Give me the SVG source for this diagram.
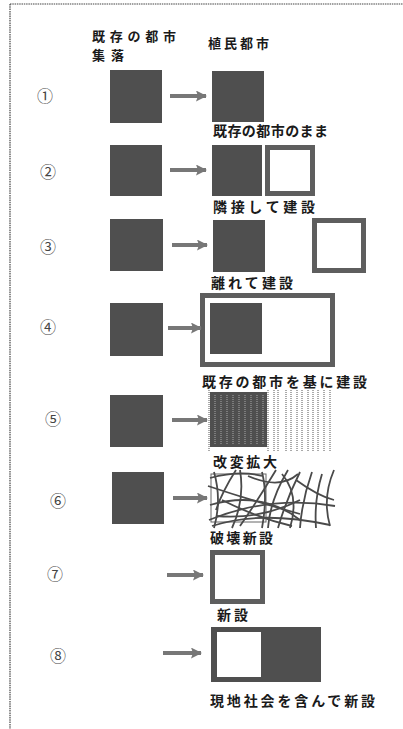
<svg xmlns="http://www.w3.org/2000/svg" width="403" height="729" viewBox="0 0 403 729">
<style>
text{font-family:"Noto Sans CJK JP","Noto Sans",sans-serif;fill:#1a1a1a;font-weight:bold}
.lbl{font-size:14px}
.hdr{font-size:13px}
.num{font-size:16px;font-weight:normal;fill:#444;text-anchor:middle}
.dark{fill:#4f4f4f}
.wbox{fill:#fff;stroke:#5e5e5e;stroke-width:5}
.arr{stroke:#777;stroke-width:4;fill:none;marker-end:url(#ah)}
.tangle path{fill:none;stroke:#4a4a4a;stroke-width:1.8}
.vd{stroke:#555;stroke-width:1;stroke-dasharray:1 1}
.vl{stroke:#aaa;stroke-width:1;stroke-dasharray:1 1}
</style>
<defs>
<marker id="ah" markerUnits="userSpaceOnUse" markerWidth="11" markerHeight="11" refX="10" refY="5.5" orient="auto">
<path d="M0,0 L11,5.5 L0,11 L2,5.5 z" fill="#777"/>
</marker>
</defs>
<rect width="403" height="729" fill="#fff"/>
<g id="frame" stroke="#444" stroke-width="1.2" stroke-dasharray="1.5 0.8" fill="none">
<line x1="10" y1="4" x2="403" y2="4"/>
<line x1="10" y1="4" x2="10" y2="729"/>
</g>
<g id="header">
<text class="hdr" x="92" y="41" textLength="84">既存の都市</text>
<text class="hdr" x="92" y="60" textLength="32">集落</text>
<text class="hdr" x="208" y="48" textLength="61">植民都市</text>
</g>
<g id="row1">
<text class="num" x="45" y="102">①</text>
<rect class="dark" x="110" y="70" width="52" height="53"/>
<rect class="dark" x="212" y="71" width="52" height="51"/>
<text class="lbl" x="213" y="136" textLength="115">既存の都市のまま</text>
</g>
<g id="row2">
<text class="num" x="48" y="178">②</text>
<rect class="dark" x="110" y="145" width="52" height="51"/>
<rect class="dark" x="212" y="145" width="50" height="51"/>
<rect class="wbox" x="267.5" y="147.5" width="45" height="46"/>
<text class="lbl" x="213" y="212" textLength="102">隣接して建設</text>
</g>
<g id="row3">
<text class="num" x="48" y="253">③</text>
<rect class="dark" x="110" y="219" width="53" height="52"/>
<rect class="dark" x="213" y="220" width="52" height="52"/>
<rect class="wbox" x="314.5" y="220.5" width="49" height="50"/>
<text class="lbl" x="211" y="288" textLength="82">離れて建設</text>
</g>
<g id="row4">
<text class="num" x="48" y="333">④</text>
<rect class="dark" x="110" y="303" width="53" height="53"/>
<rect class="wbox" x="202.5" y="295.5" width="130" height="69"/>
<rect class="dark" x="210" y="303" width="52" height="51"/>
<text class="lbl" x="202" y="387" textLength="165">既存の都市を基に建設</text>
</g>
<g id="row5">
<text class="num" x="53" y="425">⑤</text>
<rect class="dark" x="110" y="395" width="53" height="52"/>
<rect class="dark" x="210" y="392" width="57" height="55"/>
<g id="vlines">
<line class="vl" x1="215" y1="395" x2="215" y2="445"/>
<line class="vl" x1="221" y1="395" x2="221" y2="445"/>
<line class="vl" x1="227" y1="395" x2="227" y2="445"/>
<line class="vl" x1="233" y1="395" x2="233" y2="445"/>
<line class="vl" x1="239" y1="395" x2="239" y2="445"/>
<line class="vl" x1="245" y1="395" x2="245" y2="445"/>
<line class="vl" x1="251" y1="395" x2="251" y2="445"/>
<line class="vl" x1="257" y1="395" x2="257" y2="445"/>
<line class="vl" x1="263" y1="395" x2="263" y2="445"/>
<line class="vd" x1="209" y1="390" x2="209" y2="451"/>
<line class="vd" x1="268" y1="390" x2="268" y2="451"/>
<line class="vd" x1="274" y1="390" x2="274" y2="451"/>
<line class="vd" x1="278" y1="390" x2="278" y2="451"/>
<line class="vd" x1="286" y1="390" x2="286" y2="451"/>
<line class="vd" x1="291" y1="390" x2="291" y2="451"/>
<line class="vd" x1="297" y1="390" x2="297" y2="451"/>
<line class="vd" x1="302" y1="390" x2="302" y2="451"/>
<line class="vd" x1="308" y1="390" x2="308" y2="451"/>
<line class="vd" x1="313" y1="390" x2="313" y2="451"/>
<line class="vd" x1="318" y1="390" x2="318" y2="451"/>
<line class="vd" x1="324" y1="390" x2="324" y2="451"/>
<line class="vd" x1="330" y1="390" x2="330" y2="451"/>
</g>
<text class="lbl" x="213" y="467" textLength="64">改変拡大</text>
</g>
<g id="row6">
<text class="num" x="58" y="507">⑥</text>
<rect class="dark" x="112" y="472" width="52" height="52"/>
<rect x="211" y="474" width="55" height="48" fill="none" stroke="#666" stroke-width="1"/>
<g class="tangle">
<path d="M210,478 Q240,470 262,476"/>
<path d="M214,472 Q222,500 214,528"/>
<path d="M236,470 Q222,492 216,510"/>
<path d="M208,486 Q250,500 300,514"/>
<path d="M210,505 Q262,490 300,520"/>
<path d="M209,520 Q270,495 335,506"/>
<path d="M212,526 Q260,510 330,525"/>
<path d="M216,516 Q260,520 300,500"/>
<path d="M240,470 Q245,500 232,528"/>
<path d="M262,472 Q268,496 262,528"/>
<path d="M276,470 Q258,500 240,526"/>
<path d="M282,474 Q300,495 290,528"/>
<path d="M288,470 Q270,500 268,528"/>
<path d="M300,472 Q286,500 278,528"/>
<path d="M312,472 Q302,500 300,528"/>
<path d="M322,474 Q314,500 316,528"/>
<path d="M334,470 Q322,498 330,526"/>
<path d="M296,480 Q318,496 334,500"/>
<path d="M248,476 Q280,490 298,474"/>
<path d="M222,500 Q258,518 292,526"/>
</g>
<text class="lbl" x="210" y="543" textLength="63">破壊新設</text>
</g>
<g id="row7">
<text class="num" x="55" y="580">⑦</text>
<rect class="wbox" x="212.5" y="552.5" width="50" height="49"/>
<text class="lbl" x="217" y="620" textLength="31">新設</text>
</g>
<g id="row8">
<text class="num" x="58" y="662">⑧</text>
<rect class="dark" x="211" y="627" width="110" height="55"/>
<rect x="217" y="632" width="44" height="45" fill="#fff"/>
<text class="lbl" x="210" y="706" textLength="165">現地社会を含んで新設</text>
</g>
<g id="connectors">
<line class="arr" x1="170" y1="96" x2="206" y2="96"/>
<line class="arr" x1="170" y1="170" x2="206" y2="170"/>
<line class="arr" x1="172" y1="245" x2="207" y2="245"/>
<line class="arr" x1="168" y1="328" x2="201" y2="328"/>
<line class="arr" x1="172" y1="420" x2="207" y2="420"/>
<line class="arr" x1="173" y1="498" x2="207" y2="498"/>
<line class="arr" x1="167" y1="575" x2="203" y2="575"/>
<line class="arr" x1="163" y1="653" x2="201" y2="653"/>
</g>
</svg>
